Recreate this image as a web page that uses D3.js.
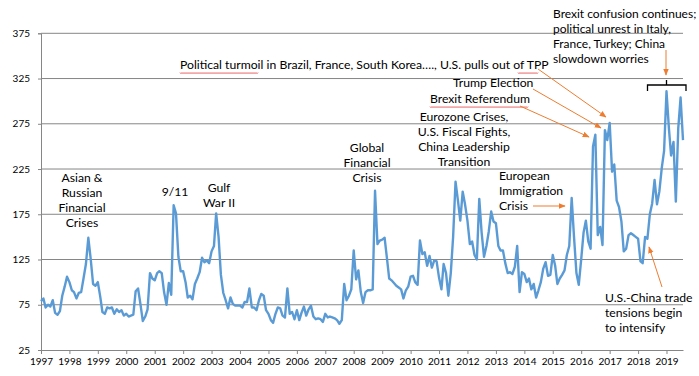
<!DOCTYPE html>
<html>
<head>
<meta charset="utf-8">
<script src="https://cdn.jsdelivr.net/npm/d3@7"></script>
<style>
  body { margin: 0; background: #fff; }
  svg { display: block; font-family: Lato, "Liberation Sans", Arial, sans-serif; }
</style>
</head>
<body>
<div id="chart"></div>
<script>
// Monthly uncertainty index, one row per year starting Jan 1997 (last row ends Aug 2019)
const startYear = 1997;
const monthly = [
  [79, 82, 72, 75, 73, 80, 66, 64, 68, 85, 95, 106],        // 1997
  [100, 91, 89, 82, 88, 89, 104, 120, 149, 126, 98, 96],     // 1998
  [100, 84, 67, 65, 72, 71, 72, 65, 70, 67, 69, 63],         // 1999
  [65, 62, 63, 64, 90, 93, 76, 57, 62, 70, 110, 104],        // 2000
  [102, 110, 112, 110, 89, 75, 99, 86, 185, 176, 128, 112],  // 2001
  [112, 100, 83, 85, 81, 98, 104, 111, 127, 122, 124, 121],  // 2002
  [134, 140, 176, 150, 108, 88, 80, 71, 83, 76, 74, 74],     // 2003
  [74, 72, 78, 78, 93, 72, 72, 69, 80, 87, 85, 69],          // 2004
  [65, 58, 55, 65, 72, 71, 63, 61, 93, 65, 67, 59],          // 2005
  [69, 58, 66, 73, 63, 70, 74, 62, 59, 60, 59, 56],          // 2006
  [65, 61, 62, 61, 60, 58, 54, 58, 98, 80, 85, 92],          // 2007
  [135, 103, 113, 89, 77, 89, 91, 91, 92, 201, 142, 146],    // 2008
  [147, 149, 128, 104, 102, 99, 96, 94, 92, 82, 91, 95],     // 2009
  [106, 107, 100, 97, 146, 131, 133, 118, 129, 116, 124, 123], // 2010
  [105, 92, 120, 110, 85, 110, 150, 211, 190, 168, 200, 186],  // 2011
  [168, 142, 145, 130, 125, 192, 155, 128, 140, 156, 178, 167], // 2012
  [165, 140, 135, 135, 121, 110, 111, 109, 117, 140, 89, 111],  // 2013
  [109, 100, 104, 92, 98, 83, 91, 100, 115, 122, 107, 108],     // 2014
  [130, 118, 98, 104, 108, 113, 130, 140, 193, 150, 110, 97],   // 2015
  [125, 155, 168, 145, 137, 250, 263, 152, 161, 141, 268, 257], // 2016
  [276, 222, 230, 190, 183, 167, 134, 137, 152, 154, 152, 150], // 2017
  [148, 123, 121, 150, 148, 175, 187, 213, 186, 200, 226, 245], // 2018
  [311, 270, 240, 255, 189, 270, 304, 257]                      // 2019
];
const yTicks = [25, 75, 125, 175, 225, 275, 325, 375];
const years = d3.range(1997, 2020);

// Annotation texts
const notes = [
  { id: 'asian', lines: ['Asian &', 'Russian', 'Financial', 'Crises'] },
  { id: 'nineeleven', lines: ['9/11'] },
  { id: 'gulf', lines: ['Gulf', 'War II'] },
  { id: 'gfc', lines: ['Global', 'Financial', 'Crisis'] },
  { id: 'euro', lines: ['Eurozone Crises,', 'U.S. Fiscal Fights,', 'China Leadership', 'Transition'] },
  { id: 'immig', lines: ['European', 'Immigration', 'Crisis'] },
  { id: 'tpp', lines: ['Political turmoil in Brazil, France, South Korea…., U.S. pulls out of TPP'] },
  { id: 'trump', lines: ['Trump Election'] },
  { id: 'brexit', lines: ['Brexit Referendum'] },
  { id: 'confusion', lines: ['Brexit confusion continues;', 'political unrest in Italy,', 'France, Turkey; China', 'slowdown worries'] },
  { id: 'trade', lines: ['U.S.-China trade', 'tensions begin', 'to intensify'] }
];

// flatten to dated points
const series = [];
monthly.forEach((row, i) => row.forEach((v, m) => series.push({ date: new Date(startYear + i, m, 1), value: v })));

const W = 699, H = 376;
const svg = d3.select('#chart').append('svg').attr('width', W).attr('height', H);
svg.append('rect').attr('width', W).attr('height', H).attr('fill', '#fff');

const x = d3.scaleTime()
  .domain([new Date(1997, 0, 1), new Date(2019, 7, 1)])
  .range([41, 683]);
const y = d3.scaleLinear().domain([25, 375]).range([350, 33.3]);

const grey = '#868686';

// gridlines
svg.append('g').selectAll('line').data(yTicks.slice(1)).join('line')
  .attr('x1', 41).attr('x2', 683)
  .attr('y1', d => y(d)).attr('y2', d => y(d))
  .attr('stroke', grey).attr('stroke-width', 1);

// y axis
const yAxis = svg.append('g').attr('transform', 'translate(41,0)')
  .call(d3.axisLeft(y).tickValues(yTicks).tickSize(3).tickPadding(8));
yAxis.select('.domain').attr('stroke', grey);
yAxis.selectAll('.tick line').attr('stroke', grey);
yAxis.selectAll('text').style('font-size', '10px').style('font-family', 'Lato, sans-serif').attr('fill', '#000');

// x axis
const xAxis = svg.append('g').attr('transform', 'translate(0,350)')
  .call(d3.axisBottom(x).tickValues(years.map(yr => new Date(yr, 0, 1)))
    .tickFormat(d3.timeFormat('%Y')).tickSize(4).tickPadding(4).tickSizeOuter(0));
xAxis.select('.domain').attr('stroke', grey);
xAxis.selectAll('.tick line').attr('stroke', grey);
xAxis.selectAll('text').style('font-size', '10px').style('font-family', 'Lato, sans-serif').attr('fill', '#000');

// line
svg.append('path').datum(series)
  .attr('fill', 'none')
  .attr('stroke', '#5B9BD5')
  .attr('stroke-width', 2.4)
  .attr('stroke-linejoin', 'round')
  .attr('d', d3.line().x(d => x(d.date)).y(d => y(d.value)));

// annotation layout
const layout = {
  asian: { x: 82, y: 178, anchor: 'middle' },
  nineeleven: { x: 175, y: 192, anchor: 'middle' },
  gulf: { x: 219, y: 188, anchor: 'middle' },
  gfc: { x: 367, y: 148, anchor: 'middle' },
  euro: { x: 464, y: 117, anchor: 'middle' },
  immig: { x: 499, y: 176, anchor: 'start' },
  tpp: { x: 180, y: 65, anchor: 'start' },
  trump: { x: 453, y: 83, anchor: 'start' },
  brexit: { x: 430, y: 99, anchor: 'start' },
  confusion: { x: 553, y: 13.5, anchor: 'start', size: 12 },
  trade: { x: 605, y: 298, anchor: 'start' }
};
const lineH = 15;
notes.forEach(n => {
  const l = layout[n.id];
  const t = svg.append('text')
    .attr('text-anchor', l.anchor)
    .style('font-size', (l.size || 12.2) + 'px')
    .attr('fill', '#000');
  n.lines.forEach((s, i) => {
    t.append('tspan').attr('x', l.x).attr('y', l.y + i * lineH).attr('dy', '0.35em').text(s);
  });
});

// spell-check squiggles (as in the source screenshot)
const squiggle = (x0, x1, yy) => {
  let d = `M${x0},${yy}`;
  for (let xx = x0; xx < x1; xx += 2) d += ` l1,1.2 l1,-1.2`;
  svg.append('path').attr('d', d).attr('fill', 'none').attr('stroke', '#e03030').attr('stroke-width', 0.7);
};
squiggle(180, 258, 72.5);
squiggle(518, 537, 72.5);
squiggle(430, 527, 106.5);

// arrows
const orange = '#ED7D31';
svg.append('defs').append('marker')
  .attr('id', 'arr').attr('viewBox', '0 0 10 10').attr('refX', 9).attr('refY', 5)
  .attr('markerWidth', 7).attr('markerHeight', 7).attr('orient', 'auto-start-reverse')
  .append('path').attr('d', 'M0,1 L10,5 L0,9 z').attr('fill', orange);

const arrows = [
  [538, 69, 606, 117],
  [533, 89, 601, 128],
  [520, 106, 589, 137],
  [533, 206, 565, 206],
  [666, 50, 666, 75],
  [662, 287, 649, 247]
];
svg.append('g').selectAll('line').data(arrows).join('line')
  .attr('x1', d => d[0]).attr('y1', d => d[1]).attr('x2', d => d[2]).attr('y2', d => d[3])
  .attr('stroke', orange).attr('stroke-width', 1)
  .attr('marker-end', 'url(#arr)');

// bracket above 2018-2019 peak
svg.append('path')
  .attr('d', 'M647.5,91 L647.5,85 L686,85 L686,91 M666.5,85 L666.5,80')
  .attr('fill', 'none').attr('stroke', '#000').attr('stroke-width', 1.3);
</script>
</body>
</html>
